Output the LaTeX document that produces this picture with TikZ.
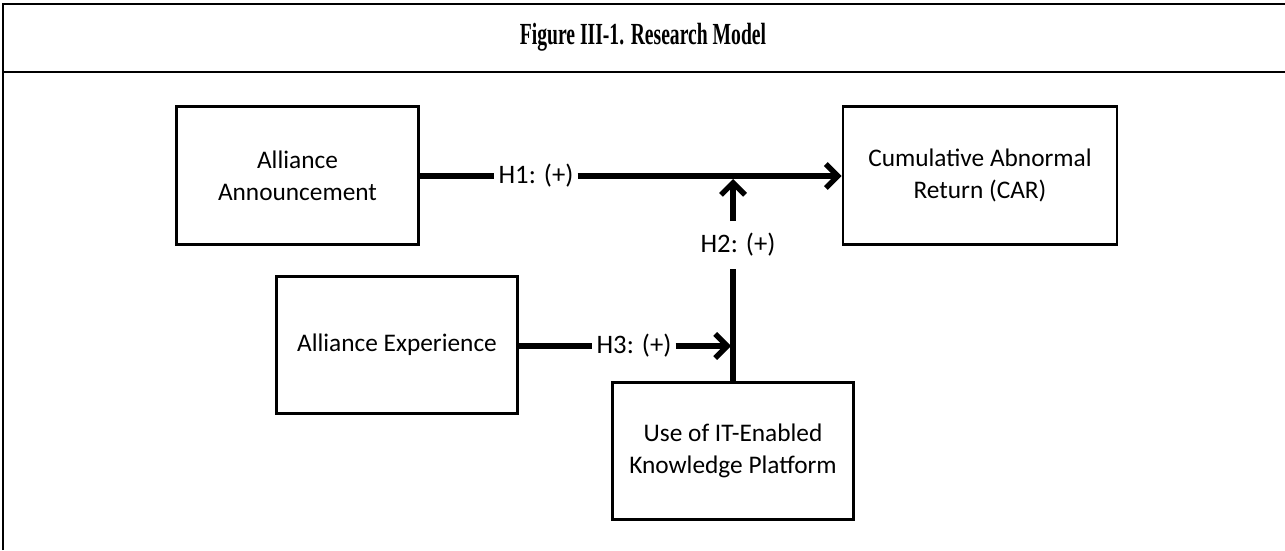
\documentclass[tikz,border=0pt]{standalone}
\usepackage{fontspec}
\setmainfont{Liberation Serif}
\newfontfamily\calib{Carlito}
\usepackage{tikz}
\usetikzlibrary{arrows.meta}

\begin{document}
\begin{tikzpicture}[x=0.75pt, y=-0.75pt,
    box/.style={draw, line width=2.2pt, minimum width=181pt, minimum height=103pt,
        align=center, font=\calib\fontsize{19}{24}\selectfont},
    hyp/.style={font=\calib\fontsize{20}{24}\selectfont, inner xsep=3pt, inner ysep=9pt},
    link/.style={line width=4pt},
    arr/.style={link, -{Straight Barb[length=9pt, width=18pt]}}]
    \useasboundingbox (0,0) rectangle (1285,550);

    % frame and title
    \draw[line width=2.2pt] (3,550) -- (3,4) -- (1285,4);
    \draw[line width=2.2pt] (3,72) -- (1285,72);
    \node[font=\bfseries\fontsize{23}{26}\selectfont] (title) at (643,37) {\scalebox{0.64}[1]{Figure III-1. Research Model}};

    % the four constructs
    \node[box] (ann) at (297.5,175.5) {Alliance\\Announcement};
    \node[box, minimum width=205.5pt] (car) at (980,175.5) {Cumulative Abnormal\\Return (CAR)};
    \node[box] (exp) at (397,345) {Alliance Experience};
    \node[box] (plat) at (733,451) {Use of IT-Enabled\\Knowledge Platform};

    % hypothesis labels
    \node[hyp] (h1) at (536,176) {H1: (+)};
    \node[hyp] (h2) at (738,245) {H2: (+)};
    \node[hyp] (h3) at (634,346) {H3: (+)};
    \coordinate (m1) at (733,179);
    \coordinate (m3) at (731,346);

    % H1
    \draw[link] (ann.east |- h1) -- (h1.west);
    \draw[arr] (h1.east) -- (car.west |- h1);

    % H2, moderation onto H1
    \draw[link] (plat.north) -- (plat.north |- h2.south);
    \draw[arr] (plat.north |- h2.north) -- (m1);

    % H3
    \draw[link] (exp.east |- h3) -- (h3.west);
    \draw[arr] (h3.east) -- (m3);
\end{tikzpicture}
\end{document}
